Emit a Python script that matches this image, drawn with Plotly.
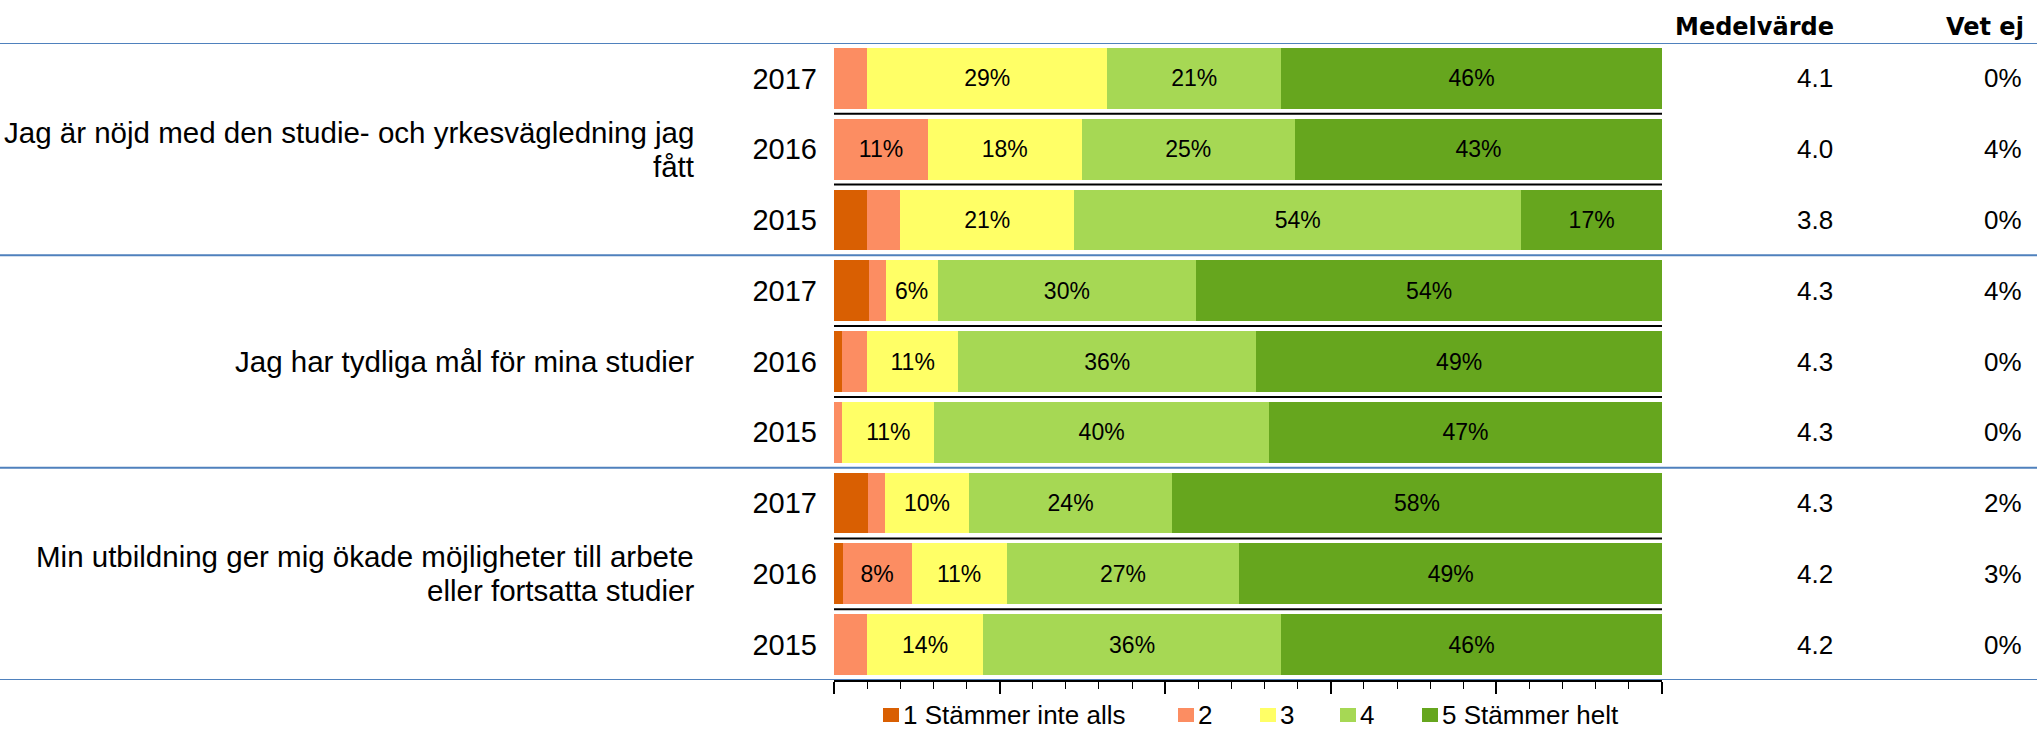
import plotly.graph_objects as go

# ---- data ----
questions = [
    "Jag är nöjd med den studie- och yrkesvägledning jag<br>fått",
    "Jag har tydliga mål för mina studier",
    "Min utbildning ger mig ökade möjligheter till arbete<br>eller fortsatta studier",
]
years = ["2017", "2016", "2015"]
series_names = ["1 Stämmer inte alls", "2", "3", "4", "5 Stämmer helt"]
s1 = [0, 0, 4, 4, 1, 0, 4, 1, 0]
s2 = [4, 11, 4, 2, 3, 1, 2, 8, 4]
s3 = [29, 18, 21, 6, 11, 11, 10, 11, 14]
s4 = [21, 25, 54, 30, 36, 40, 24, 27, 36]
s5 = [46, 43, 17, 54, 49, 47, 58, 49, 46]
medel = ["4.1", "4.0", "3.8", "4.3", "4.3", "4.3", "4.3", "4.2", "4.2"]
vetej = ["0%", "4%", "0%", "4%", "0%", "0%", "2%", "3%", "0%"]
colors = ["#D95F02", "#FC8D62", "#FFFF66", "#A6D854", "#66A61E"]

# ---- layout geometry (pixels) ----
W, H = 2037, 729
x0_px, x1_px = 834, 1662
y_top_px, y_bot_px = 43, 680
FONT = "Liberation Sans, Arial, sans-serif"
legend_left_px = [883, 1178, 1260, 1340, 1422]
legend_y_px = 715
q_line_gap = 34

n_rows = len(questions) * len(years)
rows = list(range(n_rows))
ticktext = [y for _ in questions for y in years]

fig = go.Figure()
for name, vals, col in zip(series_names, [s1, s2, s3, s4, s5], colors):
    fig.add_trace(go.Bar(
        y=rows, x=vals, orientation="h", name=name,
        marker=dict(color=col, line=dict(width=0)),
        text=[f"{v}%" if v >= 5 else "" for v in vals],
        textposition="inside", insidetextanchor="middle", textangle=0,
        textfont=dict(size=23, color="black", family=FONT),
        hoverinfo="skip", showlegend=False,
    ))

shapes = []
ng = len(years)
# blue group separators (full width)
for g in range(len(questions) + 1):
    yv = g * ng - 0.5
    shapes.append(dict(type="line", xref="paper", yref="y", x0=0.0, x1=1,
                       y0=yv, y1=yv, line=dict(color="#4F81BD", width=2),
                       layer="below"))
# black separators between years inside a group
for g in range(len(questions)):
    for k in range(ng - 1):
        yv = g * ng + k + 0.5
        shapes.append(dict(type="line", xref="x", yref="y", x0=0, x1=100,
                           y0=yv, y1=yv, line=dict(color="black", width=2)))

annotations = []
for g, q in enumerate(questions):
    lines = q.split("<br>")
    n = len(lines)
    for i, ln in enumerate(lines):
        shift = ((n - 1) / 2 - i) * q_line_gap
        annotations.append(dict(xref="paper", yref="y", x=696 / W, y=g * ng + 1,
                                yshift=shift, text=ln, showarrow=False,
                                xanchor="right", yanchor="middle", align="right",
                                font=dict(size=29.5, family=FONT, color="black")))
for r in rows:
    annotations.append(dict(xref="paper", yref="y", x=1835 / W, y=r, text=medel[r],
                            showarrow=False, xanchor="right", yanchor="middle",
                            font=dict(size=26, family=FONT, color="black")))
    annotations.append(dict(xref="paper", yref="y", x=2024 / W, y=r, text=vetej[r],
                            showarrow=False, xanchor="right", yanchor="middle",
                            font=dict(size=26, family=FONT, color="black")))
annotations.append(dict(xref="paper", yref="paper", x=1836 / W, y=1 - 27 / H,
                        text="<b>Medelvärde</b>", showarrow=False, xanchor="right",
                        yanchor="middle",
                        font=dict(size=24, family="DejaVu Sans", color="black")))
annotations.append(dict(xref="paper", yref="paper", x=2026 / W, y=1 - 27 / H,
                        text="<b>Vet ej</b>", showarrow=False, xanchor="right",
                        yanchor="middle",
                        font=dict(size=24, family="DejaVu Sans", color="black")))

# legend (drawn as squares + labels)
for name, col, lx in zip(series_names, colors, legend_left_px):
    shapes.append(dict(type="rect", xref="paper", yref="paper",
                       x0=lx / W, x1=(lx + 16) / W,
                       y0=1 - (legend_y_px + 7) / H, y1=1 - (legend_y_px - 7) / H,
                       fillcolor=col, line=dict(width=0)))
    annotations.append(dict(xref="paper", yref="paper", x=(lx + 19) / W,
                            y=1 - legend_y_px / H, text=name, showarrow=False,
                            xanchor="left", yanchor="middle", borderpad=0,
                            font=dict(size=26, family=FONT, color="black")))

fig.update_layout(
    width=W, height=H,
    margin=dict(l=0, r=0, t=0, b=0),
    paper_bgcolor="white", plot_bgcolor="white",
    barmode="stack", barnorm="percent", bargap=0.14,
    font=dict(family=FONT, color="black"),
    uniformtext=dict(mode="show", minsize=23),
    xaxis=dict(domain=[x0_px / W, x1_px / W], range=[0, 100], showgrid=False,
               zeroline=False, showticklabels=False, showline=True,
               linecolor="black", linewidth=2, ticks="outside", ticklen=12,
               tickwidth=1.5, tickcolor="black", dtick=20, tick0=0,
               minor=dict(dtick=4, ticks="outside", ticklen=7, tickcolor="black",
                          tickwidth=1, showgrid=False)),
    yaxis=dict(domain=[1 - y_bot_px / H, 1 - y_top_px / H], range=[n_rows - 0.5, -0.5],
               tickmode="array", tickvals=rows, ticktext=ticktext,
               tickfont=dict(size=29, family=FONT, color="black"),
               showgrid=False, zeroline=False, showline=False, ticks="",
               ticklabelstandoff=16, automargin=False),
    showlegend=False,
    shapes=shapes, annotations=annotations,
)
fig.write_html("out.html", config={"displayModeBar": False},
               post_script="document.body.style.margin='0';")
